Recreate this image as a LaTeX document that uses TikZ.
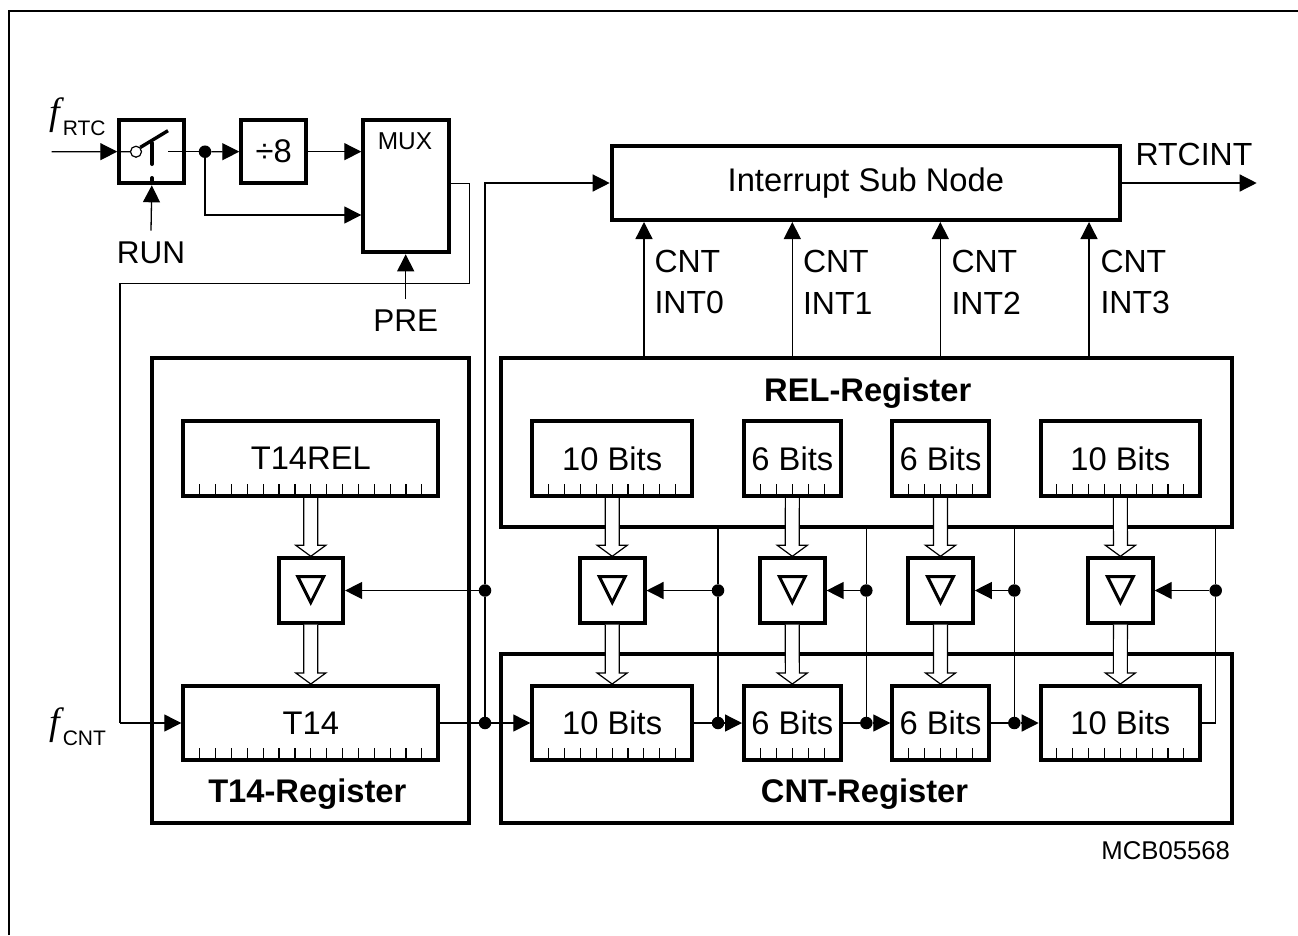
\documentclass[tikz,border=0pt]{standalone}
\usepackage{fontspec}
\setmainfont{Liberation Sans}
\newfontfamily\fserif{Liberation Serif}
\usetikzlibrary{arrows.meta,calc}
\newcommand{\fsz}[1]{\fontsize{#1}{#1}\selectfont}
\newcommand{\flabel}[1]{{\fserif\itshape\fsz{38}f}\kern3pt\raisebox{-11pt}{\fsz{21}#1}}
\tikzset{
  box/.style={draw=black,fill=white,line width=4pt,outer sep=2pt,inner sep=0pt,font=\fsz{32.7},align=center},
  regbox/.style={draw=black,line width=4pt,outer sep=2pt,inner sep=0pt},
  sig/.style={draw=black,line width=1.3pt},
  arr/.style={sig,-{Triangle[length=17pt,width=17pt]}},
  dot/.style={circle,fill=black,draw=none,minimum size=12.5pt,inner sep=0pt,outer sep=0pt},
  txt/.style={inner sep=0pt,outer sep=0pt,font=\fsz{32}},
  bold/.style={inner sep=0pt,outer sep=0pt,font=\fsz{32.7}\bfseries},
  tick/.style={draw=black,line width=1.2pt},
  fatline/.style={draw=black,fill=white,line width=1.2pt,line join=miter},
  tri/.style={draw=black,line width=3pt,line join=miter},
}
% name, x1, y1, x2, y2, text, style
\newcommand{\rectnode}[7]{%
  \pgfmathsetmacro\myw{#4-#2}%
  \pgfmathsetmacro\myh{#5-#3}%
  \pgfmathsetmacro\mycx{(#2+#4)/2}%
  \pgfmathsetmacro\mycy{(#3+#5)/2}%
  \node[#7,minimum width=\myw pt,minimum height=\myh pt] (#1) at (\mycx,\mycy) {#6};%
}
% name, x1, y1, x2, y2, text, number of ticks
\newcommand{\cellbox}[7]{%
  \rectnode{#1}{#2}{#3}{#4}{#5}{#6}{box}%
  \pgfmathsetmacro\mytc{(#2+#4)/2}%
  \foreach \i in {1,...,#7}{%
    \pgfmathsetmacro\mytx{\mytc+(\i-1-(#7-1)/2)*15.87}%
    \draw[tick] (\mytx,#5) -- ++(0,-12);%
  }%
}
% name, centre x
\newcommand{\bufbox}[2]{%
  \pgfmathsetmacro\myxa{#2-32.3}%
  \pgfmathsetmacro\myxb{#2+32.3}%
  \rectnode{#1}{\myxa}{558.3}{\myxb}{622.7}{}{box}%
  \draw[tri] ($(#1.center)+(-13,-14)$) -- ($(#1.center)+(13,-14)$) -- ($(#1.center)+(0,12)$) -- cycle;%
}
% from-node anchor, to-node anchor
\newcommand{\fatarrow}[2]{%
  \draw[fatline] ($#1+(-7,0)$) -- ($#2+(-7,-11)$) -- ($#2+(-15,-11)$) -- #2 -- ($#2+(15,-11)$) -- ($#2+(7,-11)$) -- ($#1+(7,0)$);%
}
\begin{document}
\begin{tikzpicture}[x=1pt,y=-1pt]
\useasboundingbox (0,0) rectangle (1298,935);
\fill[white] (0,0) rectangle (1298,935);
% outer frame: left and top rules only
\coordinate (fa) at (9,935);
\coordinate (fb) at (9,11);
\coordinate (fc) at (1298,11);
\draw[line width=2.2pt,line join=miter] (fa) -- (fb) -- (fc);

% register groups
\rectnode{t14reg}{152}{358}{469.3}{823.3}{}{regbox}
\rectnode{relreg}{501}{357.7}{1231.7}{527.3}{}{regbox}
\rectnode{cntreg}{501}{654}{1231.7}{823.3}{}{regbox}
\node[bold,anchor=base] (t14lab) at (307.3,802.7) {T14-Register};
\node[bold,anchor=base] (rellab) at (867.7,401.7) {REL-Register};
\node[bold,anchor=base] (cntlab) at (864.5,802.7) {CNT-Register};

% top row
\rectnode{sw}{119.3}{120}{184.3}{183.3}{}{box}
\rectnode{div}{241.3}{120}{306.3}{183.3}{÷8}{box}
\rectnode{mux}{363.3}{120}{448.7}{252.3}{}{box}
\node[txt,font=\fsz{24.4}] (muxlab) at (405,141.7) {MUX};
\rectnode{int}{611.7}{146}{1120}{220}{\rule[-3pt]{0pt}{3pt}Interrupt Sub Node}{box}

% labels
\node[inner sep=0pt,anchor=base west] (frtc) at (49,124) {\flabel{RTC}};
\node[inner sep=0pt,anchor=base west] (fcnt) at (49,734) {\flabel{CNT}};
\node[txt,font=\fsz{31.5}] (run) at (151,252.5) {RUN};
\node[txt,font=\fsz{31.5}] (pre) at (405.7,321) {PRE};
\node[txt,anchor=base] (rtcint) at (1194,165) {RTCINT};
\node[txt,font=\fsz{25.7},anchor=base] (mcb) at (1165.7,859) {MCB05568};

% top-row signals
\coordinate (inl) at (51.7,151.7);
\coordinate (swout) at (168,151.7);
\coordinate (rtcout) at (1256.7,183);
\coordinate (m1) at (469.3,183.3);
\coordinate (m2) at (469.3,283.3);
\coordinate (m3) at (120,283.3);
\coordinate (m4) at (120,723);
\coordinate (m0) at (363,215);
\node[dot] (d0) at (205,151.7) {};
\node[circle,draw=black,fill=white,line width=1.2pt,minimum size=11pt,inner sep=0pt] (swc) at (136,151.7) {};
\draw[sig] (sw.west) -- (swc);
\draw[line width=3.4pt] (swc.north east) -- (168,130.7);
\draw[line width=4pt,line cap=round] (152,143) -- (152,164);
\draw[line width=4pt,line cap=round] (152,178) -- (152,183);
\draw[arr] (inl) -- (sw.west);
\draw[sig] (swout) -- (d0);
\draw[arr] (d0) -- (div.west);
\draw[arr] (div.east) -- (mux.west |- div.east);
\draw[arr] (d0) |- (mux.west |- m0);
\draw[arr] ([yshift=11pt]run.north) -- (sw.south);
\draw[arr] ([yshift=11pt]pre.north) -- (pre.north |- mux.south);
\draw[arr] (int.east) -- (rtcout);
\draw[sig] (mux.east |- m1) -- (m1) -- (m2) -- (m3) -- (m4);

% fat arrows and register cells
\cellbox{trel}{183.3}{421}{438.3}{496}{T14REL}{15}
\cellbox{tcnt}{183.3}{686}{438.3}{760}{T14}{15}
\cellbox{r0}{532.3}{421}{692}{496}{10 Bits}{9}
\cellbox{r1}{744}{421}{840.7}{496}{6 Bits}{5}
\cellbox{r2}{892.3}{421}{988.7}{496}{6 Bits}{5}
\cellbox{r3}{1040.7}{421}{1200}{496}{10 Bits}{9}
\cellbox{c0}{532.3}{686}{692}{760}{10 Bits}{9}
\cellbox{c1}{744}{686}{840.7}{760}{6 Bits}{5}
\cellbox{c2}{892.3}{686}{988.7}{760}{6 Bits}{5}
\cellbox{c3}{1040.7}{686}{1200}{760}{10 Bits}{9}
\bufbox{bt}{310.8}
\bufbox{b0}{612.2}
\bufbox{b1}{792.3}
\bufbox{b2}{940.5}
\bufbox{b3}{1120.4}
\fatarrow{(trel.south)}{(bt.north)}
\fatarrow{(bt.south)}{(tcnt.north)}
\fatarrow{(r0.south)}{(b0.north)}
\fatarrow{(b0.south)}{(c0.north)}
\fatarrow{(r1.south)}{(b1.north)}
\fatarrow{(b1.south)}{(c1.north)}
\fatarrow{(r2.south)}{(b2.north)}
\fatarrow{(b2.south)}{(c2.north)}
\fatarrow{(r3.south)}{(b3.north)}
\fatarrow{(b3.south)}{(c3.north)}

% dots and clock chain
\node[dot] (ta) at (485,590.5) {};
\node[dot] (tb) at (485,723) {};
\node[dot] (a1) at (718,590.5) {};
\node[dot] (b1d) at (718,723) {};
\node[dot] (a2) at (866.3,590.5) {};
\node[dot] (b2d) at (866.3,723) {};
\node[dot] (a3) at (1014.3,590.5) {};
\node[dot] (b3d) at (1014.3,723) {};
\node[dot] (a4) at (1215.7,590.5) {};
\coordinate (b4c) at (1215.7,723);
\draw[arr] (m4) -- (tcnt.west);
\draw[sig] (tcnt.east) -- (tb);
\draw[arr] (tb) -- (c0.west);
\draw[sig] (tb) -- (ta);
\draw[arr] (ta) |- (int.west);
\draw[arr] (ta) -- (bt.east);
\draw[sig] (c0.east) -- (b1d);
\draw[arr] (b1d) -- (c1.west);
\draw[sig] (c1.east) -- (b2d);
\draw[arr] (b2d) -- (c2.west);
\draw[sig] (c2.east) -- (b3d);
\draw[arr] (b3d) -- (c3.west);
\draw[sig] (c3.east) -- (b4c) -- (a4);
\draw[sig] (relreg.south -| a1) -- (a1) -- (b1d);
\draw[sig] (relreg.south -| a2) -- (a2) -- (b2d);
\draw[sig] (relreg.south -| a3) -- (a3) -- (b3d);
\draw[sig] (relreg.south -| a4) -- (a4);
\draw[arr] (a1) -- (b0.east);
\draw[arr] (a2) -- (b1.east);
\draw[arr] (a3) -- (b2.east);
\draw[arr] (a4) -- (b3.east);

% interrupt lines
\coordinate (i0) at (644,290);
\coordinate (i1) at (792.3,290);
\coordinate (i2) at (940.3,290);
\coordinate (i3) at (1089,290);
\draw[arr] (relreg.north -| i0) -- (int.south -| i0);
\draw[arr] (relreg.north -| i1) -- (int.south -| i1);
\draw[arr] (relreg.north -| i2) -- (int.south -| i2);
\draw[arr] (relreg.north -| i3) -- (int.south -| i3);
\node[txt,anchor=west,align=left,font=\fontsize{32}{41.7}\selectfont] (l0) at (654.5,282) {CNT\\INT0};
\node[txt,anchor=west,align=left,font=\fontsize{32}{41.7}\selectfont] (l1) at (803,282) {CNT\\INT1};
\node[txt,anchor=west,align=left,font=\fontsize{32}{41.7}\selectfont] (l2) at (951.5,282) {CNT\\INT2};
\node[txt,anchor=west,align=left,font=\fontsize{32}{41.7}\selectfont] (l3) at (1100.5,282) {CNT\\INT3};
\end{tikzpicture}
\end{document}
